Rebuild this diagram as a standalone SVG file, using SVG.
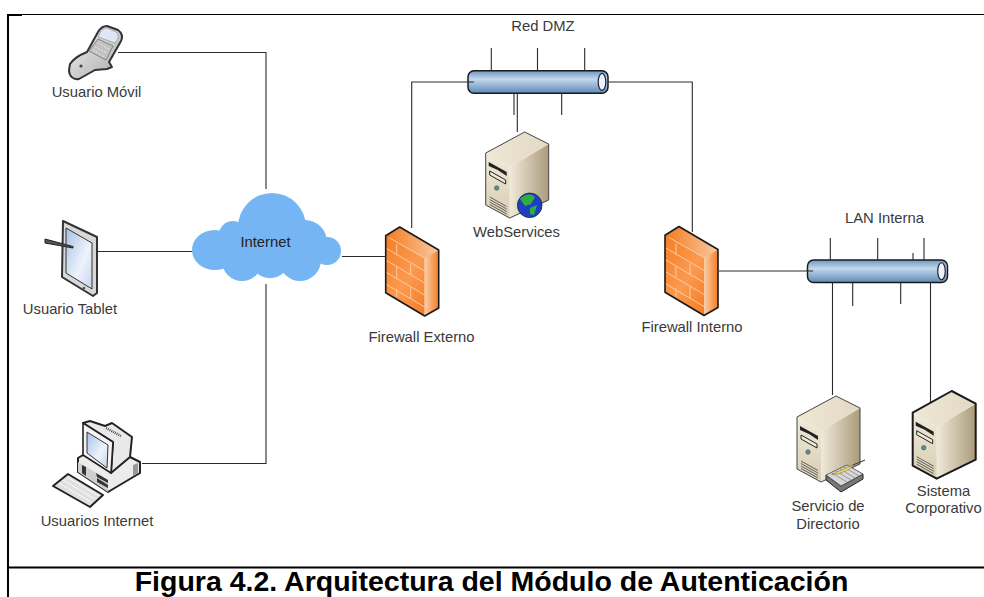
<svg xmlns="http://www.w3.org/2000/svg" xmlns:xlink="http://www.w3.org/1999/xlink" width="984" height="597" viewBox="0 0 984 597">
<style>
text{font-family:"Liberation Sans",Arial,sans-serif;font-size:14.8px;fill:#3a3a3a;text-anchor:middle}
.cap{font-size:28.5px;font-weight:bold;fill:#000}
.c{fill:none;stroke:#2a2a2a;stroke-width:1.1}
.brick{fill:none;stroke:#fbd3ae;stroke-width:.9}
.dk{fill:#222}
</style>
<defs>
<linearGradient id="bus" x1="0" y1="0" x2="0" y2="1"><stop offset="0" stop-color="#6d97c4"/><stop offset=".38" stop-color="#c2d7ea"/><stop offset="1" stop-color="#5e8ab8"/></linearGradient>
<linearGradient id="fwf" x1="0" y1="0" x2="1" y2="1"><stop offset="0" stop-color="#f57a1f"/><stop offset=".5" stop-color="#fb9a50"/><stop offset="1" stop-color="#f36f14"/></linearGradient>
<linearGradient id="fws" x1="0" y1="0" x2="1" y2="0"><stop offset="0" stop-color="#f9cfa8"/><stop offset="1" stop-color="#f47d24"/></linearGradient>
<linearGradient id="fwt" x1="0" y1="0" x2="1" y2="0"><stop offset="0" stop-color="#f57a1f"/><stop offset="1" stop-color="#f8c9a0"/></linearGradient>
<linearGradient id="srvs" x1="0" y1="0" x2="1" y2="0"><stop offset="0" stop-color="#f0ead9"/><stop offset="1" stop-color="#ab9b7c"/></linearGradient>
<linearGradient id="srvf" x1="0" y1="0" x2="0" y2="1"><stop offset="0" stop-color="#f0ead9"/><stop offset="1" stop-color="#d8cdb2"/></linearGradient>
<linearGradient id="srvt" x1="0" y1="0" x2="1" y2="0"><stop offset="0" stop-color="#efe8d6"/><stop offset="1" stop-color="#e2d9c3"/></linearGradient>
<linearGradient id="scr" x1="0" y1="0" x2="1" y2="1"><stop offset="0" stop-color="#a6c1e6"/><stop offset=".6" stop-color="#eef3fb"/><stop offset="1" stop-color="#c4d4ec"/></linearGradient>
<linearGradient id="gry" x1="0" y1="0" x2="1" y2="1"><stop offset="0" stop-color="#f4f4f4"/><stop offset="1" stop-color="#a9a9a9"/></linearGradient>
<g id="firewall">
<path fill="url(#fwf)" d="M0 8.700 14 0 53 23 39 31 39 89 0 65.700Z"/>
<path fill="url(#fws)" d="M39 31 53 23V81L39 89Z"/>
<path fill="url(#fwt)" d="M0 8.700 14 0 53 23 39 31Z"/>
<path class="brick" d="M4 11 39 31M0 21 39 44M0 33 39 56M0 45 39 68M0 57 39 80M11 17V28M25 37V48M11 40V51M25 60V72M11 62V70"/>
<path fill="none" stroke="#1a1a1a" stroke-width="1.600" stroke-linejoin="round" d="M0 8.700 14 0 53 23V81L39 89 0 65.700Z"/>
</g>
<g id="server-body">
<path fill="url(#srvs)" d="M24 36 63 13V69L24 87Z"/>
<path fill="url(#srvf)" d="M0 22 24 36V87L0 74Z"/>
<path fill="url(#srvt)" d="M0 22 39 1 63 13 24 36Z"/>
<path class="dk" d="M3 31 21 41V45L12 39 3 35Z"/><path fill="#eee8d8" stroke="#222" stroke-width="1" d="M4 40 20 49V53L4 44Z"/>
<circle cx="11" cy="57" r="2.200" fill="#4d9a8b" stroke="#444" stroke-width=".6"/>
<path fill="none" stroke="#555" stroke-width=".9" d="M4 66 21 75.500M4 68.500 21 78M4 71 21 80.500M4 73.500 21 83"/>
</g>
<g id="busshape">
<rect x="0" y="0" width="140" height="22.500" rx="6" fill="url(#bus)" stroke="#1a1a1a" stroke-width="1.500"/>
<ellipse cx="134" cy="11.250" rx="3.800" ry="8.500" fill="#eef1fb" stroke="#223" stroke-width="1.200"/>
</g>
</defs>
<g id="frame" fill="none" stroke="#000">
<path stroke-width="1.200" d="M8 14.500H984"/>
<path stroke-width="2" d="M8 15H22"/>
<path stroke-width="2" d="M8 14V597"/>
<path stroke-width="2" d="M8 567.400H984"/>
</g>
<g id="usuario-movil">
<path stroke="#333" stroke-width="2" stroke-linejoin="round" fill="url(#gry)" d="M70 64C74 58 82 54 87 52L98 32C101 27 104 26 107 26L118 30C122 33 123 37 121 41L109 62 112 67 107 69 95 70 79 79C73 80 69 76 69 70Z"/>
<path fill="#dfe7f7" stroke="#777" stroke-width=".5" d="M100 33C102 29 105 28 107 28L116 32C119 35 119 38 115 43L98 37Z"/>
<path fill="#c2c2c2" stroke="#666" stroke-width=".7" d="M98 39 113 46 106 60 89 51Z"/>
<path fill="none" stroke="#eaeaea" stroke-width="1" stroke-dasharray="2 1.500" d="M98 43 109 49M95 47 107 53M93 50 104 57"/>
<circle cx="81" cy="66" r="1.600" fill="#444"/>
<text x="96.500" y="97">Usuario Móvil</text>
</g>
<g id="usuario-tablet">
<path stroke="#333" stroke-width="2" stroke-linejoin="round" fill="#d8d8d8" d="M63 221 97 237V293L93 296 62 277Z"/>
<path fill="url(#scr)" stroke="#333" d="M66 228 92 243V289L66 273Z"/>
<circle cx="84" cy="288" r="1.300" fill="#465"/>
<path fill="#555" stroke="#222" d="M45 239 73 246.500 73 248 45 243Z"/>
<text x="70" y="314">Usuario Tablet</text>
</g>
<g id="usuarios-internet">
<path stroke="#222" stroke-width="2" stroke-linejoin="round" fill="#ececec" d="M83 455 78 458V472L108 492 140 473V462L130 457Z"/>
<path fill="#cfcfcf" d="M78 462 108 480V492L78 472Z"/>
<path fill="#333" d="M96 473 108 480V483L97 477ZM97 478 108 485V488L97 482ZM82 465 86 467V476L82 473Z"/>
<path fill="#999" d="M133 465 138 463V473L133 476Z"/>
<path fill="#e9e9e9" stroke="#222" stroke-width="2" stroke-linejoin="round" d="M83 423 90 421 105 426 112 423 132 437 130 457 111 473 113 442Z"/>
<path fill="#f4f4f4" stroke="#222" stroke-width="1.600" stroke-linejoin="round" d="M83 423 113 442 111 473 83 455Z"/>
<path fill="url(#scr)" stroke="#333" d="M87 432 108 445 107 468 87 453Z"/>
<path fill="none" stroke="#555" stroke-width="2.500" stroke-dasharray="1 1" d="M106 428 121 436"/>
<path fill="#e0e0e0" stroke="#222" stroke-width="2" stroke-linejoin="round" d="M68 474 103 495 90 507 53 486Z"/>
<path fill="none" stroke="#fafafa" stroke-width="1" d="M63 480 95 499M67 477 99 496M59 483 91 502"/>
<text x="97" y="526">Usuarios Internet</text>
</g>
<g id="internet">
<g fill="#76b5f3">
<circle cx="272" cy="227" r="34"/><ellipse cx="215" cy="250" rx="23" ry="20"/><circle cx="233" cy="235" r="14"/><circle cx="327" cy="251" r="14"/><circle cx="305" cy="242" r="22"/><circle cx="242" cy="261" r="20"/><circle cx="270" cy="258" r="20"/><circle cx="300" cy="260" r="21"/>
</g>
<text x="265.500" y="247" style="fill:#222">Internet</text>
</g>
<g id="firewall-externo">
<use xlink:href="#firewall" href="#firewall" x="385.700" y="227"/>
<text x="421.500" y="342">Firewall Externo</text>
</g>
<g id="red-dmz">
<use xlink:href="#busshape" href="#busshape" x="468" y="70.700"/>
<text x="543" y="31">Red DMZ</text>
</g>
<g id="webservices">
<use xlink:href="#server-body" href="#server-body" x="485.700" y="131"/>
<path fill="none" stroke="#444" stroke-width="1" stroke-linejoin="round" d="M485.700 153 524.700 132 548.700 144V200L509.700 218 485.700 205Z"/>
<circle cx="529.700" cy="205.300" r="12.300" fill="#1c3fc4" stroke="#222" stroke-width=".8"/>
<path fill="#2fae3f" d="M520 199C524 194 531 193 535 197L531 204 525 206ZM530 208 537 205 534 215 530 214Z"/>
<text x="516.500" y="237">WebServices</text>
</g>
<g id="firewall-interno">
<use xlink:href="#firewall" href="#firewall" x="665" y="226.500"/>
<text x="692" y="332">Firewall Interno</text>
</g>
<g id="lan-interna">
<use xlink:href="#busshape" href="#busshape" x="807.500" y="260"/>
<text x="884.500" y="223">LAN Interna</text>
</g>
<g id="servicio-directorio">
<use xlink:href="#server-body" href="#server-body" x="797" y="395"/>
<path fill="none" stroke="#444" stroke-width="1" stroke-linejoin="round" d="M797 417 836 396 860 408V464L821 482 797 469Z"/>
<path fill="#777" stroke="#222" d="M826 480 841 492 863 479V474L841 486 826 475Z"/>
<path fill="#d8d8d8" stroke="#444" stroke-width=".8" d="M826 475 847 465 863 474 841 486Z"/>
<path fill="none" stroke="#888" stroke-width=".8" d="M832 473 847 482M836 471 851 480M840 469 855 478M844 467 859 476"/>
<path fill="#f3d94a" stroke="#665" stroke-width=".5" d="M831.500 474.500 855 464 848 470 838 474Z"/>
<path stroke="#444" stroke-width="1.200" d="M853 465 865 460"/>
<text x="828" y="511">Servicio de</text><text x="828" y="529">Directorio</text>
</g>
<g id="sistema-corporativo">
<use xlink:href="#server-body" href="#server-body" x="912.700" y="390.700"/>
<path fill="none" stroke="#1a1a1a" stroke-width="2" stroke-linejoin="round" d="M912.700 412.700 951.700 391 975.700 403.700V459.700L936.700 478.700 912.700 465.700Z"/>
<text x="943.500" y="496">Sistema</text><text x="943.500" y="513">Corporativo</text>
</g>
<g id="connectors">
<path class="c" d="M118 52.500H266V189M97 251.500H192M142 463.500H266V284M342 256.500H386"/>
<path class="c" d="M474 82H411.700V228M608 82H692.300V232M491.300 48V71M537.500 48V71M584.700 48V71M514 93V115M517.300 93V132M561.700 93V115"/>
<path class="c" d="M719 271H813M830.300 238V260M877.700 238V260M924 238V260M913 253V260M832.500 283V395M852.700 283V306M900.700 283V304M930.500 283V402"/>
</g>
<text class="cap" x="491.500" y="591">Figura 4.2. Arquitectura del Módulo de Autenticación</text>
</svg>
